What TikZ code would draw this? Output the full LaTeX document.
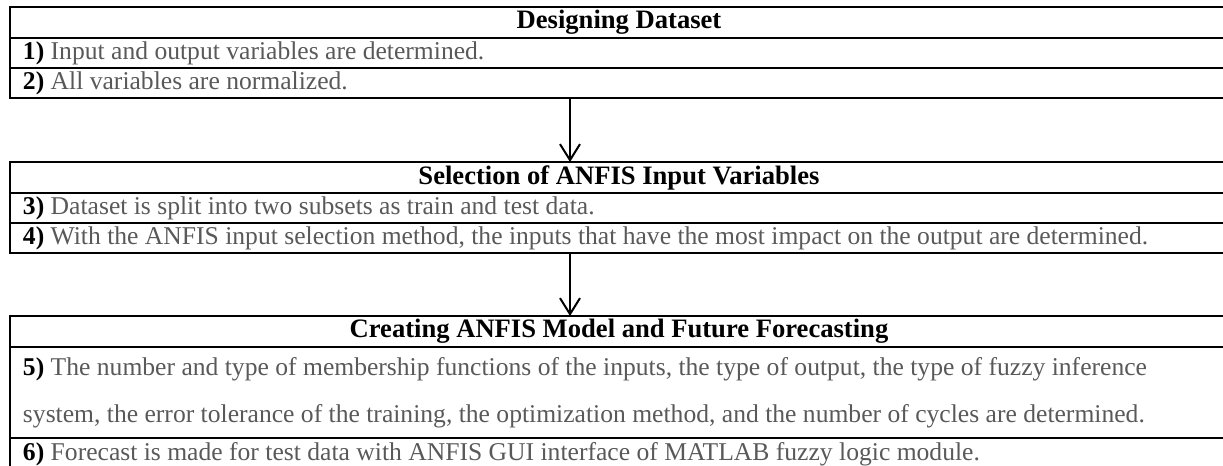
\documentclass[tikz,border=0pt]{standalone}
\usepackage{fontspec}
\setmainfont{Liberation Serif}
\usetikzlibrary{arrows.meta,positioning}
\definecolor{rowgray}{RGB}{89,89,89}
\newcommand{\stepno}[1]{{\color{black}\bfseries #1)}}

\begin{document}
\begin{tikzpicture}[x=0.5pt,y=-0.5pt,line width=1pt,node distance=0pt,
                    >={Straight Barb[length=8pt,width=10pt]}]
  \tikzstyle{head}=[draw,anchor=north west,minimum width=609pt,minimum height=15.5pt,
                    inner sep=0pt,outer sep=0pt,font=\fontsize{13.3}{15}\selectfont\bfseries]
  \tikzstyle{row}=[draw,text width=596pt,align=flush left,minimum height=15pt,
                   inner xsep=6.5pt,inner ysep=0pt,outer sep=0pt,text=rowgray,
                   font=\fontsize{12.8}{23.5}\selectfont]

  \useasboundingbox (0,0) rectangle (1223,466);
  \clip (0,0) rectangle (1223,466);

  \node[head]          (A0) at (10,7)     {Designing Dataset};
  \node[row]           (A1) [below=of A0] {\stepno{1} Input and output variables are determined.};
  \node[row]           (A2) [below=of A1] {\stepno{2} All variables are normalized.};

  \node[head]          (B0) [below=32pt of A2.south west,anchor=north west] {Selection of ANFIS Input Variables};
  \node[row]           (B3) [below=of B0] {\stepno{3} Dataset is split into two subsets as train and test data.};
  \node[row]           (B4) [below=of B3] {\stepno{4} With the ANFIS input selection method, the inputs that have the most impact on the output are determined.};

  \node[head]          (C0) [below=31.5pt of B4.south west,anchor=north west] {Creating ANFIS Model and Future Forecasting};
  \node[row,minimum height=45.5pt] (C5) [below=of C0]
        {\stepno{5} The number and type of membership functions of the inputs, the type of output, the type of fuzzy inference\\
         system, the error tolerance of the training, the optimization method, and the number of cycles are determined.};
  \node[row,minimum height=16pt]   (C6) [below=of C5] {\stepno{6} Forecast is made for test data with ANFIS GUI interface of MATLAB fuzzy logic module.};

  \coordinate (ax) at (570,0);
  \draw[->] (A2.south -| ax) -- (B0.north -| ax);
  \draw[->] (B4.south -| ax) -- (C0.north -| ax);
\end{tikzpicture}
\end{document}
